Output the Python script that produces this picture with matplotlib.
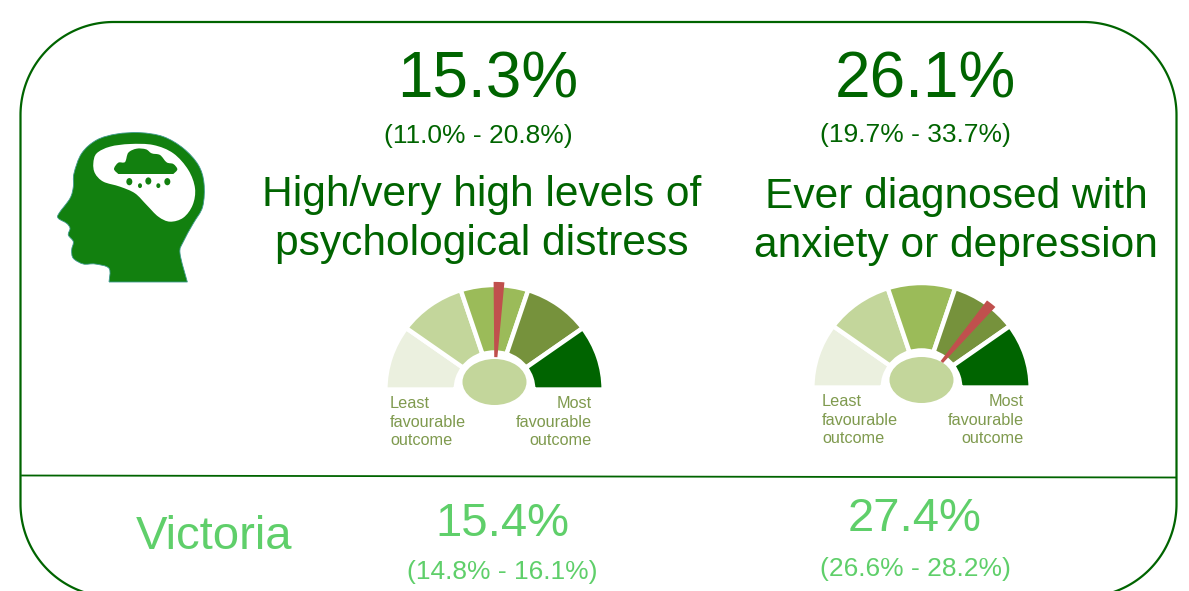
import numpy as np
import matplotlib
matplotlib.use("Agg")
import matplotlib.pyplot as plt
from matplotlib.patches import Wedge, Ellipse, PathPatch, Polygon
from matplotlib.path import Path

plt.rcParams['font.family'] = ['Liberation Sans', 'DejaVu Sans']

W, H = 1189, 591
main_values = ["15.3%", "26.1%"]
main_cis = ["(11.0% - 20.8%)", "(19.7% - 33.7%)"]
titles = ["High/very high levels of\npsychological distress", "Ever diagnosed with\nanxiety or depression"]
vic_label = "Victoria"
vic_values = ["15.4%", "27.4%"]
vic_cis = ["(14.8% - 16.1%)", "(26.6% - 28.2%)"]
needle_fractions = [0.513, 0.717]
segments = [1, 1, 1, 1, 1]
segment_colors = ["#ebf0df", "#c3d69b", "#9bbb59", "#76923c", "#006400"]
low_label = ["Least", "favourable", "outcome"]
high_label = ["Most", "favourable", "outcome"]

DARK = "#006400"
LIGHT = "#5fcf6a"
LABEL = "#7f9a4e"

fig = plt.figure(figsize=(W / 100, H / 100), dpi=100)
ax = fig.add_axes([0, 0, 1, 1])
ax.set_xlim(0, W)
ax.set_ylim(H, 0)
ax.axis("off")


def round_frame(x0, y0, x1, y1, r):
    pts = []
    for cx, cy, a0 in [(x1 - r, y0 + r, -90), (x1 - r, y1 - r, 0), (x0 + r, y1 - r, 90), (x0 + r, y0 + r, 180)]:
        t = np.radians(np.linspace(a0, a0 + 90, 60))
        pts.append(np.column_stack([cx + r * np.cos(t), cy + r * np.sin(t)]))
    return np.vstack(pts)


ax.add_patch(Polygon(round_frame(20.5, 22, 1176.5, 597, 93), closed=True, fc="none", ec=DARK, lw=1.6))
ax.plot([22, 1176], [475.5, 477.5], color=DARK, lw=1.3)


def smooth(points, closed=True):
    """Catmull-Rom curve through the outline points; open outlines close with a straight edge."""
    p = np.array(points, dtype=float)
    n = len(p)
    verts, codes = [p[0]], [Path.MOVETO]
    for i in range(n if closed else n - 1):
        if closed:
            p0, p1, p2, p3 = p[i - 1], p[i], p[(i + 1) % n], p[(i + 2) % n]
        else:
            p0, p1, p2, p3 = p[max(i - 1, 0)], p[i], p[i + 1], p[min(i + 2, n - 1)]
        verts += [p1 + (p2 - p0) / 6, p2 - (p3 - p1) / 6, p2]
        codes += [Path.CURVE4] * 3
    if not closed:
        verts.append(p[0])
        codes.append(Path.LINETO)
    return Path(verts, codes)


def icon(points):
    return [(40 + x / 3, 120 + y / 3) for x, y in points]


HEAD = [(207, 486), (207, 445), (165, 432), (130, 432), (100, 415), (95, 390), (100, 365),
        (85, 345), (90, 325), (80, 310), (55, 295), (57, 280), (90, 235), (100, 200), (102, 160),
        (125, 100), (170, 60), (230, 42), (300, 38), (370, 50), (430, 85), (475, 135), (492, 190),
        (488, 260), (460, 310), (430, 365), (420, 400), (442, 486)]
BRAIN = [(160, 130), (170, 100), (210, 80), (270, 72), (340, 75), (400, 100), (445, 150), (465, 205),
         (458, 255), (430, 293), (390, 305), (355, 290), (320, 255), (285, 220), (240, 200),
         (190, 185), (165, 160)]
CLOUD = [(400, 162), (412, 148), (400, 132), (380, 127), (360, 105), (335, 100), (318, 88),
         (290, 86), (265, 98), (255, 126), (235, 128), (222, 147), (235, 162)]
DROPS = [(268, 185, 9), (325, 183, 9), (382, 185, 9), (300, 197, 6), (355, 197, 6)]

ICON_GREEN = "#12800f"
ax.add_patch(PathPatch(smooth(icon(HEAD), closed=False), fc=ICON_GREEN, ec="#3f9a8f", lw=0.6))
ax.add_patch(PathPatch(smooth(icon(BRAIN)), fc="white", ec="none"))
ax.add_patch(PathPatch(smooth(icon(CLOUD), closed=False), fc=ICON_GREEN, ec="none"))
for (x, y), (_, _, r) in zip(icon([d[:2] for d in DROPS]), DROPS):
    ax.add_patch(Ellipse((x, y), 2 * r / 3, 2.4 * r / 3, fc=ICON_GREEN, ec="none"))

# headline text
for cx, cy, val, ci_x, ci_y, ci in zip([488, 925], [81, 81], main_values,
                                       [478.5, 915.5], [136, 135], main_cis):
    ax.text(cx, cy, val, color=DARK, fontsize=46, ha="center", va="center")
    ax.text(ci_x, ci_y, ci, color=DARK, fontsize=19, ha="center", va="center")
for x, y1, y2, title in [(482, 195, 244, titles[0]), (956, 197, 246, titles[1])]:
    a, b = title.split("\n")
    ax.text(x, y1, a, color=DARK, fontsize=30.6, ha="center", va="center")
    ax.text(x, y2, b, color=DARK, fontsize=30.6, ha="center", va="center")


def gauge(cx, base, rx, ry, frac, hub_c, left_x, right_x, label_y):
    gx = fig.add_axes([(cx - 1.1 * rx) / W, 1 - (base + 0.35 * ry) / H,
                       2.2 * rx / W, 1.45 * ry / H])
    gx.set_xlim(-1.1, 1.1)
    gx.set_ylim(-0.35, 1.1)
    gx.axis("off")
    edges = 180 - 180 * np.cumsum([0] + segments) / sum(segments)
    for i, c in enumerate(segment_colors):
        gx.add_patch(Wedge((0, -0.015), 1.015, edges[i + 1], edges[i], width=0.655,
                           fc=c, ec="white", lw=3.2))
    hub_y = (base - hub_c) / ry
    gx.add_patch(Ellipse((0, hub_y), 64 / rx, 46 / ry, fc=segment_colors[1], ec="none", zorder=3))
    theta = 180 - 180 * frac
    gx.add_patch(Wedge((0, 0), 1.03, theta - 2.8, theta + 2.8, width=0.73,
                       fc="#c0504d", ec="none", zorder=4))
    for i in range(3):
        y = label_y + 18.7 * i
        ax.text(left_x, y, low_label[i], color=LABEL, fontsize=11.7, ha="left", va="baseline")
        ax.text(right_x, y, high_label[i], color=LABEL, fontsize=11.7, ha="right", va="baseline")


gauge(494.5, 388, 107.5, 103, needle_fractions[0], 382, 390, 592, 408)
gauge(921.5, 386, 107.5, 103, needle_fractions[1], 380, 822, 1024, 406)

# Victoria row
ax.text(214, 537, vic_label, color=LIGHT, fontsize=34, ha="center", va="center")
for x, y, v, cy, c in zip([502, 915], [524, 519], vic_values, [572, 569], vic_cis):
    ax.text(x, y, v, color=LIGHT, fontsize=34, ha="center", va="center")
    ax.text(x, cy, c, color=LIGHT, fontsize=19, ha="center", va="center")

fig.savefig("out.png", dpi=100, facecolor="white")
